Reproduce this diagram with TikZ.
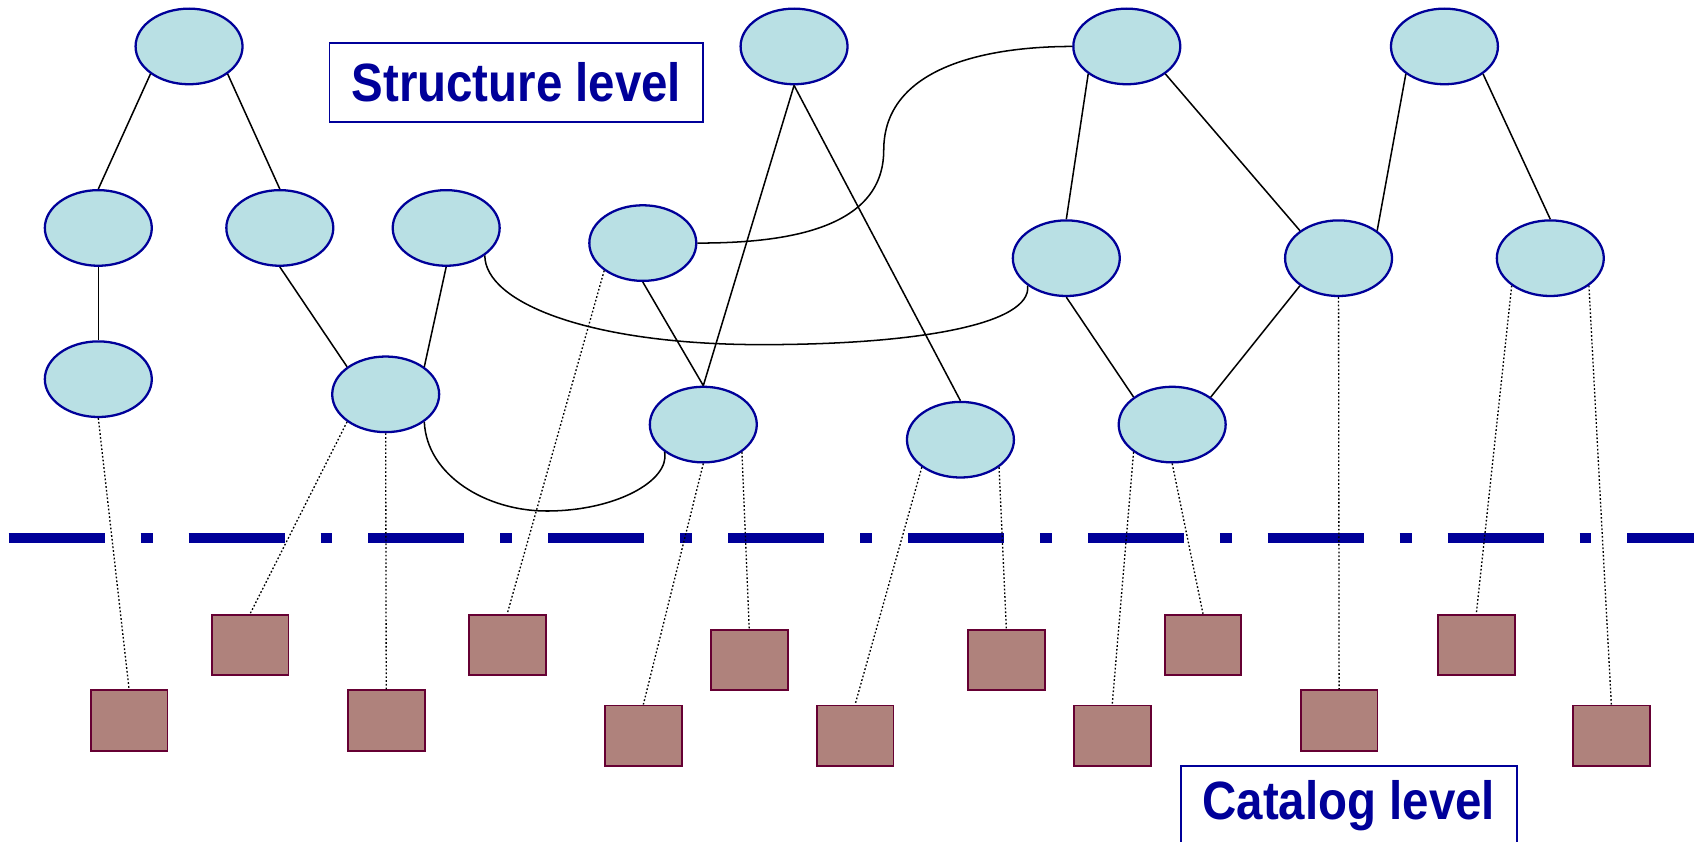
\documentclass[tikz,border=0pt]{standalone}
\usepackage{fontspec}
\setmainfont[FakeStretch=0.88]{Liberation Sans}
\usetikzlibrary{shapes.geometric}
\definecolor{levelblue}{RGB}{0,0,153}
\definecolor{partfill}{RGB}{185,224,228}
\definecolor{itemfill}{RGB}{175,130,124}
\definecolor{itemdraw}{RGB}{102,0,51}
\tikzset{
  snode/.style={ellipse, draw=levelblue, fill=partfill, line width=0.6pt,
                minimum width=9.9mm, minimum height=7mm, inner sep=0pt},
  cnode/.style={rectangle, draw=itemdraw, fill=itemfill, line width=0.5pt,
                minimum width=7.1mm, minimum height=5.6mm, inner sep=0pt},
  slink/.style={black, line width=0.4pt},
  clink/.style={black, line width=0.35pt, dash pattern=on 0.45pt off 0.55pt},
  levelbox/.style={rectangle, draw=levelblue, line width=0.45pt, text=levelblue,
                   font=\fontsize{14.2pt}{17pt}\selectfont\bfseries,
                   minimum height=7.3mm, inner sep=0pt},
  levelsep/.style={levelblue, line width=2.42pt,
                   dash pattern=on 25.3pt off 9.47pt on 3.13pt off 9.47pt},
}
\begin{document}
\begin{tikzpicture}[x=0.1mm, y=-0.1mm]
\useasboundingbox (0,0) rectangle (1568,779);
\node[snode] (s1) at (175,43) {}; \node[snode] (s2) at (735,43) {};
\node[snode] (s3) at (1043,43) {}; \node[snode] (s4) at (1337,43) {};
\node[snode] (s5) at (91,211) {}; \node[snode] (s6) at (259,211) {};
\node[snode] (s7) at (413,211) {}; \node[snode] (s8) at (595,225) {};
\node[snode] (s9) at (987,239) {}; \node[snode] (s10) at (1239,239) {};
\node[snode] (s11) at (1435,239) {};
\node[snode] (s12) at (91,351) {}; \node[snode] (s13) at (357,365) {};
\node[snode] (s14) at (651,393) {}; \node[snode] (s15) at (889,407) {};
\node[snode] (s16) at (1085,393) {};
\node[levelbox, minimum width=34.6mm] (structure) at (478,76.5) {Structure level};
\node[levelbox, minimum width=31.1mm] (catalog) at (1248.5,745.5) {Catalog level};
\coordinate (sepL) at (8,498); \coordinate (sepR) at (1590,498);
\draw[levelsep] (sepL) -- (sepR);
\node[cnode] (c1) at (231.5,597) {}; \node[cnode] (c2) at (469.5,597) {};
\node[cnode] (c3) at (1113.5,597) {}; \node[cnode] (c4) at (1366.5,597) {};
\node[cnode] (c5) at (693.5,611) {}; \node[cnode] (c6) at (931.5,611) {};
\node[cnode] (c7) at (119.5,667) {}; \node[cnode] (c8) at (357.5,667) {};
\node[cnode] (c9) at (1239.5,667) {};
\node[cnode] (c10) at (595.5,681) {}; \node[cnode] (c11) at (791.5,681) {};
\node[cnode] (c12) at (1029.5,681) {}; \node[cnode] (c13) at (1491.5,681) {};
\draw[slink] (s1.south west) -- (s5.north); \draw[slink] (s1.south east) -- (s6.north);
\draw[slink] (s5.south) -- (s12.north); \draw[slink] (s6.south) -- (s13.north west);
\draw[slink] (s7.south) -- (s13.north east);
\draw[slink] (s2.south) -- (s14.north); \draw[slink] (s2.south) -- (s15.north);
\draw[slink] (s8.south) -- (s14.north);
\draw[slink] (s3.south west) -- (s9.north); \draw[slink] (s3.south east) -- (s10.north west);
\draw[slink] (s4.south west) -- (s10.north east); \draw[slink] (s4.south east) -- (s11.north);
\draw[slink] (s9.south) -- (s16.north west); \draw[slink] (s10.south west) -- (s16.north east);
\coordinate (k1) at (818,139); \coordinate (k2) at (705,319); \coordinate (k3) at (506,473);
\draw[slink] (s8.east) to[out=0,in=-90] (k1) to[out=90,in=180] (s3.west);
\draw[slink] (s7.south east) .. controls (449,280) and (545,319) .. (k2)
  .. controls (850,319) and (955,300) .. (s9.south west);
\draw[slink] (s13.south east) .. controls (395,440) and (450,473) .. (k3)
  .. controls (570,473) and (620,445) .. (s14.south west);
\draw[clink] (s12.south) -- (c7.north);
\draw[clink] (s13.south west) -- (c1.north); \draw[clink] (s13.south) -- (c8.north);
\draw[clink] (s8.south west) -- (c2.north);
\draw[clink] (s14.south) -- (c10.north); \draw[clink] (s14.south east) -- (c5.north);
\draw[clink] (s15.south west) -- (c11.north); \draw[clink] (s15.south east) -- (c6.north);
\draw[clink] (s16.south west) -- (c12.north); \draw[clink] (s16.south) -- (c3.north);
\draw[clink] (s10.south) -- (c9.north);
\draw[clink] (s11.south west) -- (c4.north); \draw[clink] (s11.south east) -- (c13.north);
\end{tikzpicture}
\end{document}
